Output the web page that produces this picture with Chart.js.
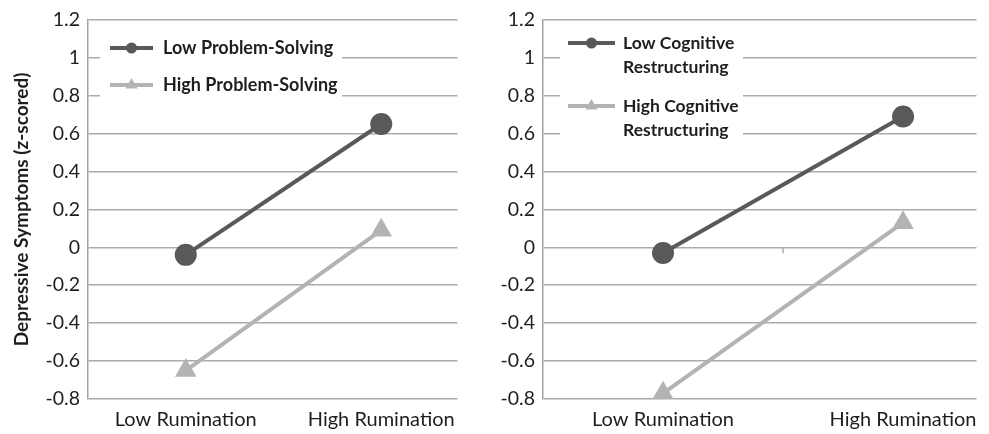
<!DOCTYPE html>
<html>
<head>
<meta charset="utf-8">
<script src="https://cdn.jsdelivr.net/npm/chart.js@4.4.1/dist/chart.umd.min.js"></script>
<style>
  html, body { margin: 0; padding: 0; background: #ffffff; }
  #wrap { position: relative; width: 989px; height: 434px; overflow: hidden; }
  .box { position: absolute; top: 0; height: 434px; }
  #leftBox { left: 0; width: 470px; }
  #rightBox { left: 470px; width: 519px; }
</style>
</head>
<body>
<div id="wrap">
  <div class="box" id="leftBox"><canvas id="leftChart"></canvas></div>
  <div class="box" id="rightBox"><canvas id="rightChart"></canvas></div>
</div>
<script>
// ---- data ----
const categories = ['Low Rumination', 'High Rumination'];
const yTicks = [-0.8, -0.6, -0.4, -0.2, 0, 0.2, 0.4, 0.6, 0.8, 1, 1.2];
const yTitle = 'Depressive Symptoms (z-scored)';

const lowProblemSolving = [-0.04, 0.65];
const highProblemSolving = [-0.65, 0.09];
const lowCognitiveRestructuring = [-0.03, 0.69];
const highCognitiveRestructuring = [-0.77, 0.13];

const leftSeriesNames = [['Low Problem-Solving'], ['High Problem-Solving']];
const rightSeriesNames = [['Low Cognitive', 'Restructuring'], ['High Cognitive', 'Restructuring']];

// ---- styles ----
const DARK = '#595959';
const LIGHT = '#b3b3b3';
const GRID = '#ababab';
const TEXT = '#1e1e1e';
Chart.defaults.font.family = 'Lato, "Open Sans", sans-serif';
Chart.defaults.color = TEXT;

function toPoints(values) {
  return values.map((v, i) => ({ x: i, y: v }));
}

const insideLegend = {
  id: 'insideLegend',
  beforeDatasetsDraw(chart, args, opts) {
    const ctx = chart.ctx;
    ctx.save();
    ctx.fillStyle = '#ffffff';
    ctx.fillRect(opts.box[0], opts.box[1], opts.box[2], opts.box[3]);
    chart.data.datasets.forEach((ds, i) => {
      const y = opts.rows[i];
      ctx.strokeStyle = ds.borderColor;
      ctx.lineWidth = 4;
      ctx.beginPath();
      ctx.moveTo(opts.lineX[0], y);
      ctx.lineTo(opts.lineX[1], y);
      ctx.stroke();
      const mx = (opts.lineX[0] + opts.lineX[1]) / 2;
      ctx.fillStyle = ds.borderColor;
      ctx.beginPath();
      if (ds.pointStyle === 'triangle') {
        const r = 7;
        ctx.moveTo(mx, y - r);
        ctx.lineTo(mx + r * 0.866, y + r * 0.5);
        ctx.lineTo(mx - r * 0.866, y + r * 0.5);
        ctx.closePath();
      } else {
        ctx.arc(mx, y, 5.5, 0, Math.PI * 2);
      }
      ctx.fill();
      ctx.fillStyle = TEXT;
      ctx.font = 'bold ' + opts.fontSize + 'px Lato, "Open Sans", sans-serif';
      ctx.textBaseline = 'middle';
      ctx.textAlign = 'left';
      opts.names[i].forEach((line, j) => {
        ctx.fillText(line, opts.textX, y + j * opts.lineGap);
      });
    });
    ctx.restore();
  }
};

const midTick = {
  id: 'midTick',
  afterDraw(chart, args, opts) {
    if (!opts.show) return;
    const ctx = chart.ctx;
    const xs = chart.scales.x, ys = chart.scales.y;
    const x = xs.getPixelForValue(0.5);
    const y = ys.getPixelForValue(0);
    ctx.save();
    ctx.strokeStyle = GRID;
    ctx.lineWidth = 1.5;
    ctx.beginPath();
    ctx.moveTo(x, y);
    ctx.lineTo(x, y + 6);
    ctx.stroke();
    ctx.restore();
  }
};

function makeChart(id, seriesA, seriesB, names, cfg) {
  return new Chart(document.getElementById(id), {
    type: 'line',
    data: {
      datasets: [
        {
          label: names[0].join(' '),
          data: toPoints(seriesA),
          borderColor: DARK,
          backgroundColor: DARK,
          pointBackgroundColor: DARK,
          pointBorderColor: DARK,
          pointStyle: 'circle',
          pointRadius: 11,
          borderWidth: 4,
          pointBorderWidth: 0
        },
        {
          label: names[1].join(' '),
          data: toPoints(seriesB),
          borderColor: LIGHT,
          backgroundColor: LIGHT,
          pointBackgroundColor: LIGHT,
          pointBorderColor: LIGHT,
          pointStyle: 'triangle',
          pointRadius: 12.5,
          borderWidth: 4,
          pointBorderWidth: 0
        }
      ]
    },
    options: {
      responsive: true,
      maintainAspectRatio: false,
      animation: false,
      events: [],
      layout: { padding: { top: 17, right: cfg.padRight, bottom: 0, left: 0 } },
      plugins: {
        legend: { display: false },
        tooltip: { enabled: false },
        insideLegend: cfg.legend,
        midTick: { show: cfg.midTick }
      },
      scales: {
        x: {
          type: 'linear',
          min: -0.5,
          max: cfg.xMax,
          grid: { display: false, drawTicks: false },
          border: { display: false },
          afterBuildTicks: s => { s.ticks = categories.map((c, i) => ({ value: i })); },
          afterFit: s => { s.height = 35; },
          ticks: {
            padding: 9,
            maxRotation: 0,
            autoSkip: false,
            font: { size: 20 },
            color: TEXT,
            callback: v => categories[v]
          }
        },
        y: {
          min: -0.8,
          max: 1.2,
          afterBuildTicks: s => { s.ticks = yTicks.map(v => ({ value: v })); },
          afterFit: s => { s.width = cfg.yWidth; },
          grid: { color: GRID, lineWidth: 1.5, drawTicks: false },
          border: { display: true, color: '#a3a3a3', width: 1.5 },
          ticks: {
            padding: 8,
            font: { size: 19.5 },
            color: TEXT,
            callback: v => String(Number(v.toFixed(1)))
          },
          title: {
            display: cfg.showTitle,
            text: yTitle,
            color: TEXT,
            font: { size: 19, weight: 'bold' },
            padding: { top: 10, bottom: 0 }
          }
        }
      }
    },
    plugins: [insideLegend, midTick]
  });
}

makeChart('leftChart', lowProblemSolving, highProblemSolving, leftSeriesNames, {
  padRight: 12,
  xMax: 1.39,
  yWidth: 88,
  showTitle: true,
  midTick: false,
  legend: { box: [100, 28, 242, 76], lineX: [110, 153], textX: 163, rows: [48, 85], lineGap: 24, fontSize: 18, names: leftSeriesNames }
});

makeChart('rightChart', lowCognitiveRestructuring, highCognitiveRestructuring, rightSeriesNames, {
  padRight: 0,
  xMax: 1.306,
  yWidth: 73,
  showTitle: false,
  midTick: true,
  legend: { box: [90, 26, 183, 116], lineX: [98, 145], textX: 153, rows: [43, 106], lineGap: 24, fontSize: 17.5, names: rightSeriesNames }
});
</script>
</body>
</html>
